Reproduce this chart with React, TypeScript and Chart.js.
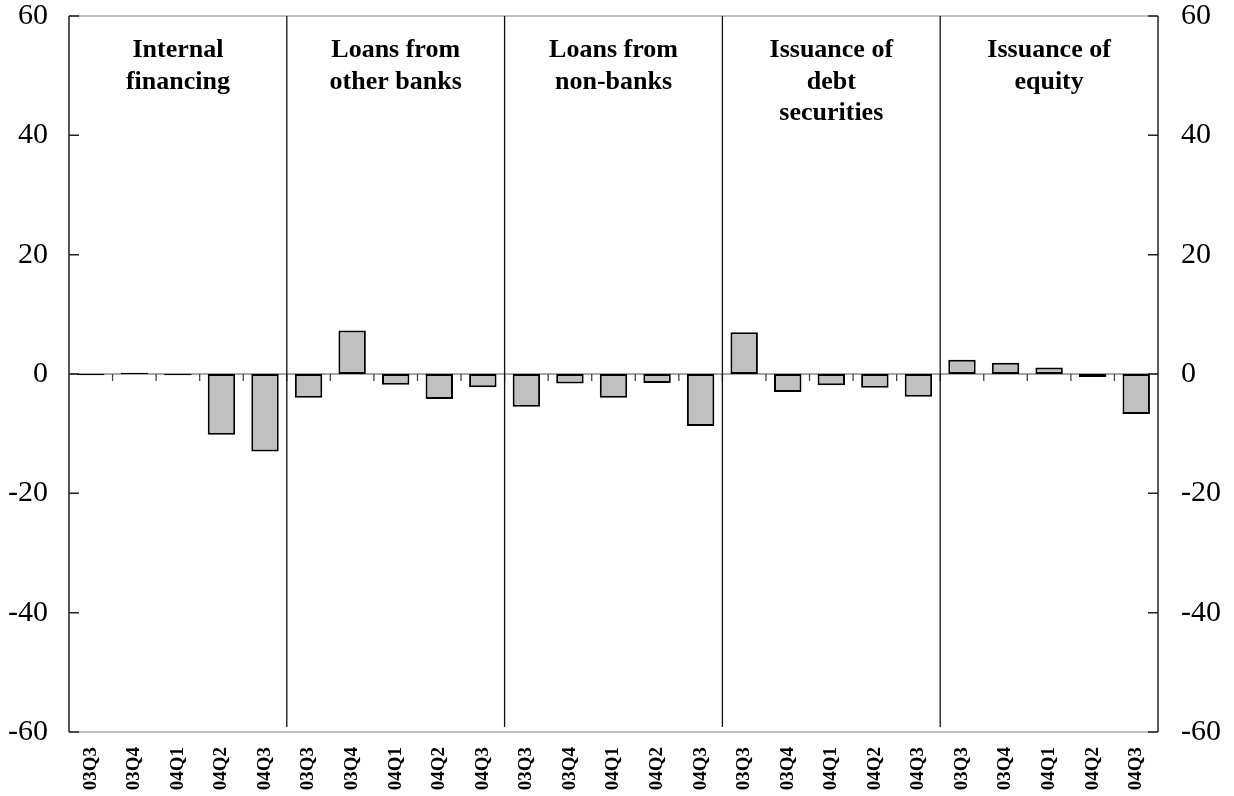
import { useEffect, useRef } from "react";
import { Chart, registerables } from "chart.js";

Chart.register(...registerables);

const quarters = ["03Q3", "03Q4", "04Q1", "04Q2", "04Q3"];

const groupTitles = [
  ["Internal", "financing"],
  ["Loans from", "other banks"],
  ["Loans from", "non-banks"],
  ["Issuance of", "debt", "securities"],
  ["Issuance of", "equity"],
];

const internalFinancing = [-0.2, 0.2, -0.2, -10.2, -13.0];
const loansOtherBanks = [-4.0, 7.3, -1.8, -4.2, -2.2];
const loansNonBanks = [-5.5, -1.6, -4.0, -1.5, -8.7];
const debtSecurities = [7.0, -3.0, -1.9, -2.3, -3.8];
const equityIssuance = [2.4, 1.9, 1.1, -0.5, -6.7];

const yTicks = [-60, -40, -20, 0, 20, 40, 60];

const labels = groupTitles.flatMap(() => quarters);
const values = [
  ...internalFinancing,
  ...loansOtherBanks,
  ...loansNonBanks,
  ...debtSecurities,
  ...equityIssuance,
];

const SERIF = "'Liberation Serif', 'Times New Roman', serif";

const overlay = {
  id: "overlay",
  beforeDatasetsDraw(chart: any) {
    const { ctx, chartArea, scales } = chart;
    const x = scales.x;
    const y0 = scales.y.getPixelForValue(0);
    ctx.save();
    // zero line
    ctx.strokeStyle = "#8a8a8a";
    ctx.lineWidth = 1.5;
    ctx.beginPath();
    ctx.moveTo(chartArea.left, y0);
    ctx.lineTo(chartArea.right, y0);
    ctx.stroke();
    // small ticks under the zero line between categories
    ctx.strokeStyle = "#444";
    ctx.lineWidth = 1.3;
    for (let i = 0; i < labels.length - 1; i++) {
      const bx = (x.getPixelForValue(i) + x.getPixelForValue(i + 1)) / 2;
      ctx.beginPath();
      ctx.moveTo(bx, y0);
      ctx.lineTo(bx, y0 + 7);
      ctx.stroke();
    }
    ctx.restore();
  },
  afterDatasetsDraw(chart: any) {
    const { ctx, chartArea, scales } = chart;
    const { left, right, top, bottom } = chartArea;
    const x = scales.x;
    const y = scales.y;
    ctx.save();

    // frame
    ctx.lineWidth = 1.5;
    ctx.strokeStyle = "#aaa";
    ctx.beginPath();
    ctx.moveTo(left, top);
    ctx.lineTo(right, top);
    ctx.moveTo(left, bottom);
    ctx.lineTo(right, bottom);
    ctx.stroke();
    ctx.strokeStyle = "#555";
    ctx.lineWidth = 2;
    ctx.beginPath();
    ctx.moveTo(left, top);
    ctx.lineTo(left, bottom);
    ctx.stroke();
    ctx.strokeStyle = "#222";
    ctx.lineWidth = 1.5;
    ctx.beginPath();
    ctx.moveTo(right, top);
    ctx.lineTo(right, bottom);
    ctx.stroke();

    // inward ticks on both value axes
    ctx.strokeStyle = "#222";
    ctx.lineWidth = 1.5;
    yTicks.forEach((v) => {
      const py = y.getPixelForValue(v);
      ctx.beginPath();
      ctx.moveTo(left, py);
      ctx.lineTo(left + 10, py);
      ctx.moveTo(right, py);
      ctx.lineTo(right - 10, py);
      ctx.stroke();
    });

    // group separators
    ctx.strokeStyle = "#111";
    ctx.lineWidth = 1.3;
    for (let g = 1; g < groupTitles.length; g++) {
      const i = g * quarters.length;
      const bx = (x.getPixelForValue(i - 1) + x.getPixelForValue(i)) / 2;
      ctx.beginPath();
      ctx.moveTo(bx, top);
      ctx.lineTo(bx, bottom - 5);
      ctx.stroke();
    }

    // group titles
    ctx.fillStyle = "#000";
    ctx.font = `bold 26px ${SERIF}`;
    ctx.textAlign = "center";
    ctx.textBaseline = "alphabetic";
    groupTitles.forEach((lines, g) => {
      const cx = x.getPixelForValue(g * quarters.length + 2);
      lines.forEach((line, k) => {
        ctx.fillText(line, cx, top + 41 + k * 31.7);
      });
    });
    ctx.restore();
  },
};

const fitValueAxis = (w: number) => (s: any) => {
  s.width = w;
  s.paddingTop = 0;
  s.paddingBottom = 0;
};

export default function App() {
  const ref = useRef<HTMLCanvasElement | null>(null);

  useEffect(() => {
    if (!ref.current) return;
    const chart = new Chart(ref.current, {
      type: "bar",
      data: {
        labels,
        datasets: [
          {
            data: values,
            backgroundColor: "#c0c0c0",
            borderColor: "#000",
            borderWidth: 2,
            borderSkipped: false,
            barPercentage: 0.63,
            categoryPercentage: 1,
          },
        ],
      },
      options: {
        animation: false,
        responsive: true,
        maintainAspectRatio: false,
        layout: { padding: { top: 16, left: 0, right: 0, bottom: 0 } },
        plugins: {
          legend: { display: false },
          tooltip: { enabled: false },
        },
        scales: {
          x: {
            grid: { display: false, drawTicks: false },
            border: { display: false },
            ticks: {
              autoSkip: false,
              minRotation: 90,
              maxRotation: 90,
              padding: 15,
              color: "#000",
              font: { family: SERIF, size: 19, weight: "bold", lineHeight: 1 },
            },
            afterFit: (s: any) => {
              s.height = 64;
              s.paddingLeft = 0;
              s.paddingRight = 0;
            },
          },
          y: {
            position: "left",
            min: -60,
            max: 60,
            grid: { display: false, drawTicks: false },
            border: { display: false },
            ticks: {
              stepSize: 20,
              padding: 21,
              color: "#000",
              font: { family: SERIF, size: 30, lineHeight: 1 },
              callback: (v: any) => String(v),
            },
            afterFit: fitValueAxis(69),
          },
          y2: {
            position: "right",
            min: -60,
            max: 60,
            grid: { display: false, drawTicks: false },
            border: { display: false },
            ticks: {
              stepSize: 20,
              padding: 23,
              color: "#000",
              font: { family: SERIF, size: 30, lineHeight: 1 },
              callback: (v: any) => String(v),
            },
            afterFit: fitValueAxis(76),
          },
        },
      },
      plugins: [overlay],
    });
    return () => {
      chart.destroy();
    };
  }, []);

  return (
    <div
      style={{
        position: "fixed",
        left: 0,
        top: 0,
        width: 1234,
        height: 796,
        background: "#fff",
      }}
    >
      <canvas ref={ref} />
    </div>
  );
}
